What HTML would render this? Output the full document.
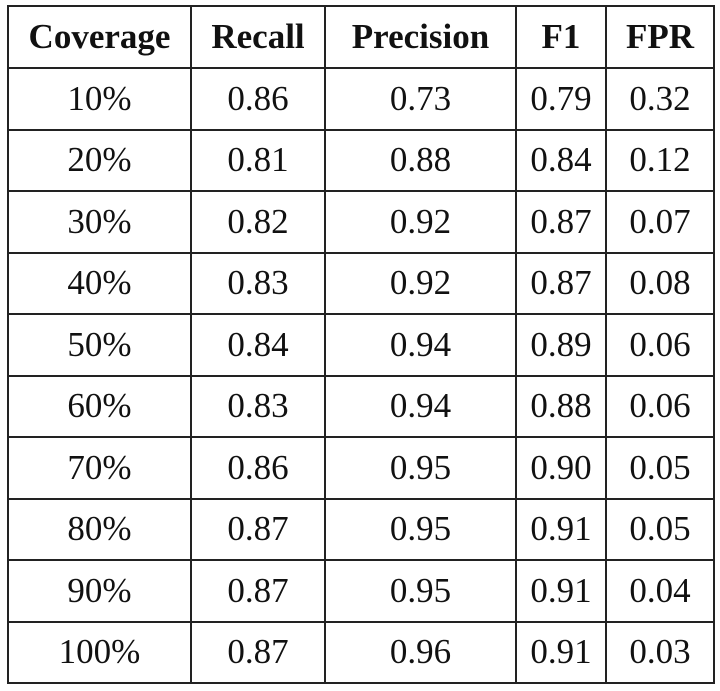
<!DOCTYPE html>
<html><head><meta charset="utf-8"><style>
html,body{margin:0;padding:0;background:#fff;width:720px;height:691px;overflow:hidden}
table{position:absolute;left:7px;top:5px;border-collapse:collapse;font-family:"Liberation Serif",serif;font-size:35px;color:#111;table-layout:fixed}
td,th{border:2px solid #222;text-align:center;padding:0;height:61.5px;box-sizing:border-box}
th{font-weight:bold;height:62px}
</style></head><body>
<table>
<colgroup><col style="width:183px"><col style="width:134px"><col style="width:191px"><col style="width:90px"><col style="width:108px"></colgroup>
<thead><tr>
<th>Coverage</th>
<th>Recall</th>
<th>Precision</th>
<th>F1</th>
<th>FPR</th></tr></thead>
<tbody>
<tr><td>10%</td><td>0.86</td><td>0.73</td><td>0.79</td><td>0.32</td></tr>
<tr><td>20%</td><td>0.81</td><td>0.88</td><td>0.84</td><td>0.12</td></tr>
<tr><td>30%</td><td>0.82</td><td>0.92</td><td>0.87</td><td>0.07</td></tr>
<tr><td>40%</td><td>0.83</td><td>0.92</td><td>0.87</td><td>0.08</td></tr>
<tr><td>50%</td><td>0.84</td><td>0.94</td><td>0.89</td><td>0.06</td></tr>
<tr><td>60%</td><td>0.83</td><td>0.94</td><td>0.88</td><td>0.06</td></tr>
<tr><td>70%</td><td>0.86</td><td>0.95</td><td>0.90</td><td>0.05</td></tr>
<tr><td>80%</td><td>0.87</td><td>0.95</td><td>0.91</td><td>0.05</td></tr>
<tr><td>90%</td><td>0.87</td><td>0.95</td><td>0.91</td><td>0.04</td></tr>
<tr><td>100%</td><td>0.87</td><td>0.96</td><td>0.91</td><td>0.03</td></tr>
</tbody></table>
</body></html>
